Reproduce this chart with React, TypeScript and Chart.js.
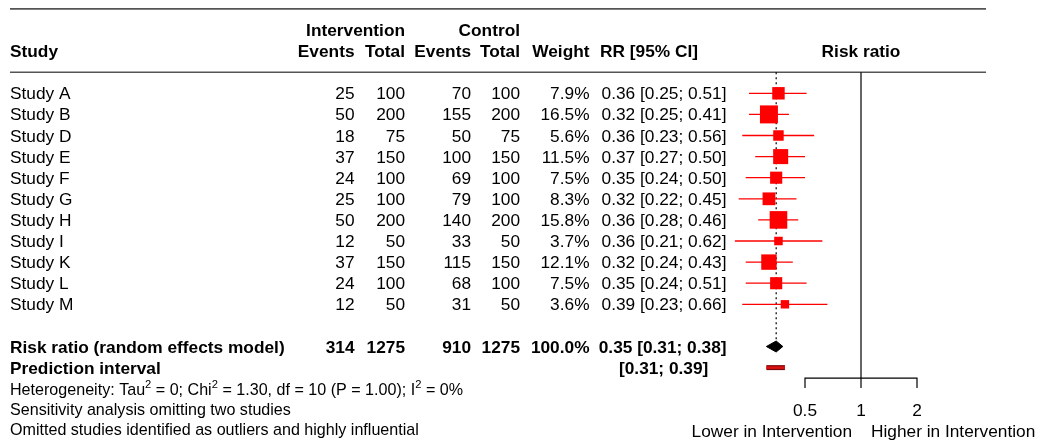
import { useEffect, useRef } from "react";
import { Chart, registerables } from "chart.js";

Chart.register(...registerables);

// ---------- data ----------
const studies = ["Study A", "Study B", "Study D", "Study E", "Study F", "Study G", "Study H", "Study I", "Study K", "Study L", "Study M"];
const eventsIntervention = [25, 50, 18, 37, 24, 25, 50, 12, 37, 24, 12];
const totalIntervention = [100, 200, 75, 150, 100, 100, 200, 50, 150, 100, 50];
const eventsControl = [70, 155, 50, 100, 69, 79, 140, 33, 115, 68, 31];
const totalControl = [100, 200, 75, 150, 100, 100, 200, 50, 150, 100, 50];
const weights = [7.9, 16.5, 5.6, 11.5, 7.5, 8.3, 15.8, 3.7, 12.1, 7.5, 3.6];
const riskRatio = [0.36, 0.32, 0.36, 0.37, 0.35, 0.32, 0.36, 0.36, 0.32, 0.35, 0.39];
const ciLower = [0.25, 0.25, 0.23, 0.27, 0.24, 0.22, 0.28, 0.21, 0.24, 0.24, 0.23];
const ciUpper = [0.51, 0.41, 0.56, 0.5, 0.5, 0.45, 0.46, 0.62, 0.43, 0.51, 0.66];

const pooledEventsI = 314;
const pooledTotalI = 1275;
const pooledEventsC = 910;
const pooledTotalC = 1275;
const pooledWeight = 100.0;
const pooledRR = 0.35;
const pooledLower = 0.31;
const pooledUpper = 0.38;
const predLower = 0.31;
const predUpper = 0.39;

const axisTicks = [0.5, 1, 2];
const labelLeft = "Lower in Intervention";
const labelRight = "Higher in Intervention";
const footLines = ["Sensitivity analysis omitting two studies", "Omitted studies identified as outliers and highly influential"];

// ---------- layout ----------
const W = 1039;
const H = 441;
const ROW0 = 93.3;
const STEP = 21.1;
const FF = "'Liberation Sans', Arial, Helvetica, sans-serif";
const FS = 17.3;
const FS_FOOT = 16.1;
const FOOT_STEP = 20 / 21.1;
const SUMMARY_ROW = 12;
const PRED_ROW = 13;
const AXIS_ROW = 13.5;
const TICK_ROW = 13.97;

const fmt2 = (v: number) => v.toFixed(2);

export default function App() {
  const ref = useRef<HTMLCanvasElement | null>(null);

  useEffect(() => {
    if (!ref.current) return;

    const textPlugin = {
      id: "forestText",
      beforeDatasetsDraw(chart: any) {
        const ctx = chart.ctx;
        const ys = chart.scales.y;
        ctx.save();
        ctx.strokeStyle = "#555";
        ctx.lineWidth = 1.6;
        for (const r of [-4, -1]) {
          const y = ys.getPixelForValue(r);
          ctx.beginPath();
          ctx.moveTo(10, y);
          ctx.lineTo(986, y);
          ctx.stroke();
        }
        ctx.restore();
      },
      afterDraw(chart: any) {
        const ctx = chart.ctx;
        const ys = chart.scales.y;
        const xs = chart.scales.x;
        const Y = (r: number) => ys.getPixelForValue(r) + 6;
        ctx.save();
        ctx.fillStyle = "#000";
        ctx.textBaseline = "alphabetic";
        const txt = (s: string, x: number, row: number, align: CanvasTextAlign, bold = false, size = FS) => {
          ctx.font = `${bold ? "bold " : ""}${size}px ${FF}`;
          ctx.textAlign = align;
          ctx.fillText(s, x, Y(row));
        };
        const cEvI = 354.5, cToI = 405, cEvC = 471, cToC = 520, cW = 589.5, cRR = 726.5;
        // headers
        txt("Intervention", cToI, -3, "right", true);
        txt("Control", cToC, -3, "right", true);
        txt("Study", 10, -2, "left", true);
        txt("Events", cEvI, -2, "right", true);
        txt("Total", cToI, -2, "right", true);
        txt("Events", cEvC, -2, "right", true);
        txt("Total", cToC, -2, "right", true);
        txt("Weight", cW, -2, "right", true);
        txt("RR [95% CI]", 600, -2, "left", true);
        txt("Risk ratio", xs.getPixelForValue(1), -2, "center", true);
        // study rows
        studies.forEach((s, i) => {
          txt(s, 10, i, "left");
          txt(String(eventsIntervention[i]), cEvI, i, "right");
          txt(String(totalIntervention[i]), cToI, i, "right");
          txt(String(eventsControl[i]), cEvC, i, "right");
          txt(String(totalControl[i]), cToC, i, "right");
          txt(weights[i].toFixed(1) + "%", cW, i, "right");
          txt(`${fmt2(riskRatio[i])} [${fmt2(ciLower[i])}; ${fmt2(ciUpper[i])}]`, cRR, i, "right");
        });
        // summary
        txt("Risk ratio (random effects model)", 10, SUMMARY_ROW, "left", true);
        txt(String(pooledEventsI), cEvI, SUMMARY_ROW, "right", true);
        txt(String(pooledTotalI), cToI, SUMMARY_ROW, "right", true);
        txt(String(pooledEventsC), cEvC, SUMMARY_ROW, "right", true);
        txt(String(pooledTotalC), cToC, SUMMARY_ROW, "right", true);
        txt(pooledWeight.toFixed(1) + "%", cW, SUMMARY_ROW, "right", true);
        txt(`${fmt2(pooledRR)} [${fmt2(pooledLower)}; ${fmt2(pooledUpper)}]`, cRR, SUMMARY_ROW, "right", true);
        txt("Prediction interval", 10, PRED_ROW, "left", true);
        txt(`[${fmt2(predLower)}; ${fmt2(predUpper)}]`, 708.3, PRED_ROW, "right", true);
        // heterogeneity with superscripts (smaller footnote font)
        const parts: [string, boolean][] = [
          ["Heterogeneity: Tau", false], ["2", true], [" = 0; Chi", false], ["2", true],
          [" = 1.30, df = 10 (P = 1.00); I", false], ["2", true], [" = 0%", false],
        ];
        let cx = 10;
        ctx.textAlign = "left";
        const hy = Y(14);
        for (const [s, sup] of parts) {
          ctx.font = sup ? `11.2px ${FF}` : `${FS_FOOT}px ${FF}`;
          ctx.fillText(s, cx, sup ? hy - 6.5 : hy);
          cx += ctx.measureText(s).width;
        }
        footLines.forEach((s, k) => txt(s, 10, 14 + FOOT_STEP * (k + 1), "left", false, FS_FOOT));
        // axis labels
        axisTicks.forEach((t) => txt(String(t), xs.getPixelForValue(t), 15, "center"));
        const x1 = xs.getPixelForValue(1);
        txt(labelLeft, x1 - 9, 16, "right");
        txt(labelRight, x1 + 10, 16, "left");
        ctx.restore();
      },
    };

    const lineDs = (data: { x: number; y: number }[], color: string, width: number, order: number, extra: any = {}) => ({
      data,
      showLine: true,
      borderColor: color,
      backgroundColor: color,
      borderWidth: width,
      pointRadius: 0,
      pointHoverRadius: 0,
      order,
      ...extra,
    });

    const datasets: any[] = [];
    // squares
    datasets.push({
      data: riskRatio.map((v, i) => ({ x: v, y: i })),
      pointStyle: "rect",
      pointRadius: (c: any) => (4.43 * Math.sqrt(weights[c.dataIndex] ?? 1)) / Math.SQRT2,
      pointHoverRadius: (c: any) => (4.43 * Math.sqrt(weights[c.dataIndex] ?? 1)) / Math.SQRT2,
      pointBackgroundColor: "#ff0000",
      pointBorderWidth: 0,
      borderWidth: 0,
      showLine: false,
      order: 0,
    });
    // confidence intervals
    studies.forEach((_, i) => {
      datasets.push(lineDs([{ x: ciLower[i], y: i }, { x: ciUpper[i], y: i }], "#ff0000", 1.3, 1));
    });
    // reference line at 1 (down to axis tick)
    datasets.push(lineDs([{ x: 1, y: -1 }, { x: 1, y: TICK_ROW }], "#000", 1.2, 2));
    // dotted line at pooled estimate
    datasets.push(lineDs([{ x: pooledRR, y: -1 }, { x: pooledRR, y: SUMMARY_ROW - 0.26 }], "#000", 1.2, 2, { borderDash: [2, 3] }));
    // diamond
    datasets.push(
      lineDs(
        [
          { x: pooledLower, y: SUMMARY_ROW },
          { x: pooledRR, y: SUMMARY_ROW - 0.26 },
          { x: pooledUpper, y: SUMMARY_ROW },
          { x: pooledRR, y: SUMMARY_ROW + 0.26 },
          { x: pooledLower, y: SUMMARY_ROW },
        ],
        "#000",
        1,
        0,
        { fill: "shape", backgroundColor: "#000" }
      )
    );
    // prediction interval
    datasets.push(lineDs([{ x: predLower, y: PRED_ROW }, { x: predUpper, y: PRED_ROW }], "#7a0a0a", 5, 1));
    datasets.push(lineDs([{ x: predLower, y: PRED_ROW }, { x: predUpper, y: PRED_ROW }], "#dd1111", 2.6, 0));
    // x axis line and ticks
    datasets.push(
      lineDs(
        [
          { x: axisTicks[0], y: TICK_ROW },
          { x: axisTicks[0], y: AXIS_ROW },
          { x: axisTicks[2], y: AXIS_ROW },
          { x: axisTicks[2], y: TICK_ROW },
        ],
        "#000",
        1.2,
        2
      )
    );

    const chart = new Chart(ref.current, {
      type: "scatter",
      data: { datasets },
      options: {
        responsive: false,
        animation: false,
        events: [],
        layout: { autoPadding: false, padding: { left: 693, right: W - 1029, top: 0, bottom: 0 } },
        scales: {
          x: { type: "logarithmic", min: 0.125, max: 8, display: false },
          y: { type: "linear", min: -ROW0 / STEP, max: (H - ROW0) / STEP, reverse: true, display: false },
        },
        plugins: { legend: { display: false }, tooltip: { enabled: false } },
      },
      plugins: [textPlugin],
    } as any);

    return () => chart.destroy();
  }, []);

  return (
    <div style={{ position: "absolute", left: 0, top: 0, width: W, height: H, background: "#fff" }}>
      <canvas ref={ref} width={W} height={H} style={{ display: "block", width: W, height: H }} />
    </div>
  );
}
